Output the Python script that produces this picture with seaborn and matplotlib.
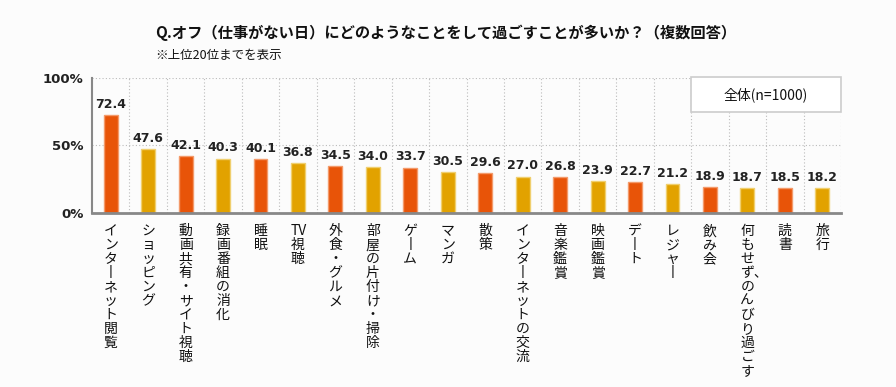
import matplotlib
matplotlib.use("Agg")
import matplotlib.pyplot as plt
import matplotlib.transforms as mtransforms
from matplotlib.patches import Rectangle
import seaborn as sns

# ── DATA ─────────────────────────────────────────────────────────────────────
categories = [
    "インターネット閲覧", "ショッピング", "動画共有・サイト視聴", "録画番組の消化",
    "睡眠", "TV視聴", "外食・グルメ", "部屋の片付け・掃除", "ゲーム", "マンガ",
    "散策", "インターネットの交流", "音楽鑑賞", "映画鑑賞", "デート", "レジャー",
    "飲み会", "何もせず、のんびり過ごす", "読書", "旅行",
]
values = [72.4, 47.6, 42.1, 40.3, 40.1, 36.8, 34.5, 34.0, 33.7, 30.5,
          29.6, 27.0, 26.8, 23.9, 22.7, 21.2, 18.9, 18.7, 18.5, 18.2]
y_ticks = [0, 50, 100]
y_tick_labels = ["0%", "50%", "100%"]

TITLE = "Q.オフ（仕事がない日）にどのようなことをして過ごすことが多いか？（複数回答）"
NOTE = "※上位20位までを表示"
LEGEND = "全体(n=1000)"

RED = "#E85408"
YELLOW = "#E2A200"
bar_colors = [RED if i % 2 == 0 else YELLOW for i in range(len(categories))]
edge_colors = ["#F39A6A" if i % 2 == 0 else "#F0CF6E" for i in range(len(categories))]

sns.set_style("white")
plt.rcParams["font.family"] = ["Noto Sans CJK JP", "DejaVu Sans"]
plt.rcParams["hatch.linewidth"] = 3.0
plt.rcParams["hatch.color"] = "#F1F1F1"

LABEL_FS = 10


def vertical(label):
    # stack characters top-to-bottom, keep "TV" upright, long vowel as a vertical stroke
    lines = []
    i = 0
    while i < len(label):
        ch = label[i]
        if label[i:i + 2] == "TV":
            lines.append("TV")
            i += 2
            continue
        if ch == "、" and lines:
            lines[-1] += ch
            i += 1
            continue
        lines.append("丨" if ch == "ー" else ch)
        i += 1
    return "\n".join(lines)


fig = plt.figure(figsize=(8.96, 3.87), dpi=100)
fig.patch.set_facecolor("#FCFCFC")
fig.patches.append(Rectangle((0, 0), 1, 1, transform=fig.transFigure,
                             facecolor="#FCFCFC", edgecolor="none", hatch="//", zorder=-10))

ax = fig.add_axes([92 / 896, 1 - 213 / 387, 749 / 896, 135 / 387])
ax.patch.set_alpha(0)

sns.barplot(x=categories, y=values, hue=categories, palette=bar_colors,
            width=0.37, legend=False, ax=ax, saturation=1)
for patch, ec in zip(ax.patches, edge_colors):
    patch.set_edgecolor(ec)
    patch.set_linewidth(1.0)
    patch.set_zorder(3)

for cont in ax.containers:
    ax.bar_label(cont, fmt="%.1f", padding=3, fontsize=9, fontweight="bold",
                 color="#222222", family=["DejaVu Sans"])

ax.set_xlim(-0.5, len(categories) - 0.5)
ax.set_ylim(0, 100)

# dotted grid
for x in range(len(categories)):
    ax.axvline(x + 0.5, color="#BBBBBB", lw=0.8, ls=(0, (1, 2)), zorder=1)
ax.axhline(50, color="#BBBBBB", lw=0.8, ls=(0, (1, 2)), zorder=1)
ax.axhline(100, color="#BBBBBB", lw=0.8, ls=(0, (1, 2)), zorder=1)

for side in ["top", "right"]:
    ax.spines[side].set_visible(False)
ax.spines["left"].set_color("#888888")
ax.spines["left"].set_linewidth(1.5)
ax.spines["bottom"].set_color("#888888")
ax.spines["bottom"].set_linewidth(2.0)
ax.spines["bottom"].set_zorder(5)

ax.set_yticks(y_ticks)
ax.set_yticklabels(y_tick_labels, fontsize=9.5, fontweight="bold", color="#222222",
                   family=["DejaVu Sans"])
ax.tick_params(axis="y", length=3, color="#888888", pad=3)
ax.tick_params(axis="x", length=0, pad=8)
ax.set_xlabel("")
ax.set_ylabel("")

ax.set_xticks(range(len(categories)))
ax.set_xticklabels([vertical(c) for c in categories], fontsize=LABEL_FS, color="#111111",
                   va="top", ha="left", multialignment="left", linespacing=1.0)
shift = mtransforms.ScaledTranslation(-LABEL_FS / 72 / 2, 0, fig.dpi_scale_trans)
for lab in ax.get_xticklabels():
    lab.set_transform(lab.get_transform() + shift)

# legend box
fig.patches.append(Rectangle((691 / 896, 1 - 112 / 387), 150 / 896, 35 / 387,
                             transform=fig.transFigure, facecolor="white",
                             edgecolor="#CCCCCC", lw=1.2, zorder=2))
fig.text(766 / 896, 1 - 95 / 387, LEGEND, fontsize=10, color="#111111",
         ha="center", va="center", zorder=3)

fig.text(155 / 896, 1 - 33 / 387, TITLE, fontsize=11, fontweight="bold", color="#111111",
         ha="left", va="center")
fig.text(155 / 896, 1 - 56 / 387, NOTE, fontsize=9, color="#111111", ha="left", va="center")

fig.savefig("out.png", dpi=100)
